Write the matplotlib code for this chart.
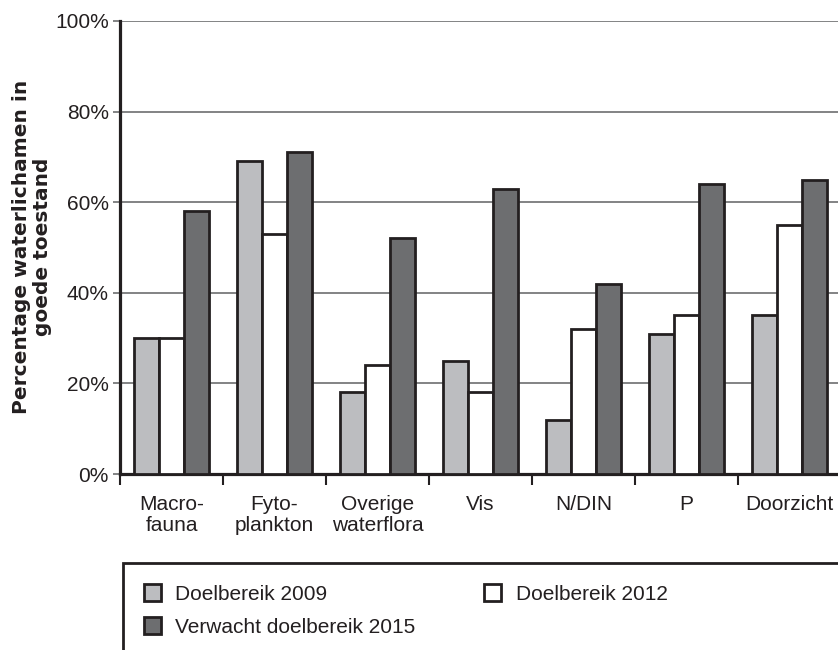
""" Doelbereik waterlichamen - grouped bar chart """
import matplotlib
matplotlib.use("Agg")
import matplotlib.pyplot as plt
import numpy as np
from matplotlib.patches import Rectangle
from matplotlib.ticker import FixedLocator, PercentFormatter

# Data
categories = ["Macro-\nfauna", "Fyto-\nplankton", "Overige\nwaterflora",
              "Vis", "N/DIN", "P", "Doorzicht"]
doel_2009 = [30, 69, 18, 25, 12, 31, 35]
doel_2012 = [30, 53, 24, 18, 32, 35, 55]
verwacht_2015 = [58, 71, 52, 63, 42, 64, 65]
series_labels = ["Doelbereik 2009", "Doelbereik 2012", "Verwacht doelbereik 2015"]
y_ticks = [0, 20, 40, 60, 80, 100]

INK = "#231f20"
LIGHT = "#bcbdc0"
DARK = "#6d6e70"
GRID = "#6d6e70"

plt.rcParams["font.family"] = ["Liberation Sans", "DejaVu Sans"]
plt.rcParams["font.size"] = 15

fig = plt.figure(figsize=(8.38, 6.5), dpi=100)
ax = fig.add_axes([120 / 838, 1 - 474 / 650, 721 / 838, 453 / 650])

x = np.arange(len(categories))
w = 0.245
bar_kw = dict(edgecolor=INK, linewidth=2.0, zorder=3)
b1 = ax.bar(x - w, doel_2009, w, color=LIGHT, label=series_labels[0], **bar_kw)
b2 = ax.bar(x, doel_2012, w, color="white", label=series_labels[1], **bar_kw)
b3 = ax.bar(x + w, verwacht_2015, w, color=DARK, label=series_labels[2], **bar_kw)

ax.set_xlim(-0.5, len(categories) - 0.5)
ax.set_ylim(0, 100)
ax.set_yticks(y_ticks)
ax.yaxis.set_major_formatter(PercentFormatter(decimals=0))
ax.grid(axis="y", color=GRID, linewidth=1.2)
ax.set_axisbelow(True)

# category labels at the centres, tick marks at the group boundaries
ax.set_xticks(x)
ax.set_xticklabels(categories, va="top", linespacing=1.15)
ax.xaxis.set_minor_locator(FixedLocator(np.arange(len(categories)) - 0.5))
ax.tick_params(axis="x", which="major", length=0, pad=15, colors=INK)
ax.tick_params(axis="x", which="minor", length=8, width=1.5, color=INK)
ax.tick_params(axis="y", length=5, width=1.2, color=GRID, labelcolor=INK, pad=3)

for side in ("top", "right"):
    ax.spines[side].set_visible(False)
for side in ("left", "bottom"):
    ax.spines[side].set_linewidth(2.3)
    ax.spines[side].set_color(INK)

fig.text(32 / 838, 1 - 247 / 650, "Percentage waterlichamen in\ngoede toestand",
         rotation=90, ha="center", va="center", multialignment="center",
         family="DejaVu Sans", fontweight="bold", fontsize=14.5, color=INK,
         linespacing=1.15)

# legend box, running off the bottom and right of the figure
box_top = 1 - 563 / 650
fig.patches.append(Rectangle((123 / 838, -0.2), 1.0, box_top + 0.2,
                             transform=fig.transFigure, fill=False,
                             edgecolor=INK, linewidth=2.0, clip_on=False))
leg = fig.legend([b1, b3, b2], [series_labels[0], series_labels[2], series_labels[1]],
                 ncol=2, loc="upper left", bbox_to_anchor=(144 / 838, 1 - 584 / 650),
                 frameon=False, borderpad=0, borderaxespad=0,
                 handlelength=0.8, handleheight=0.85, handletextpad=0.7,
                 columnspacing=3.3, labelspacing=0.65)
for t in leg.get_texts():
    t.set_color(INK)

fig.savefig("out.png", dpi=100)
